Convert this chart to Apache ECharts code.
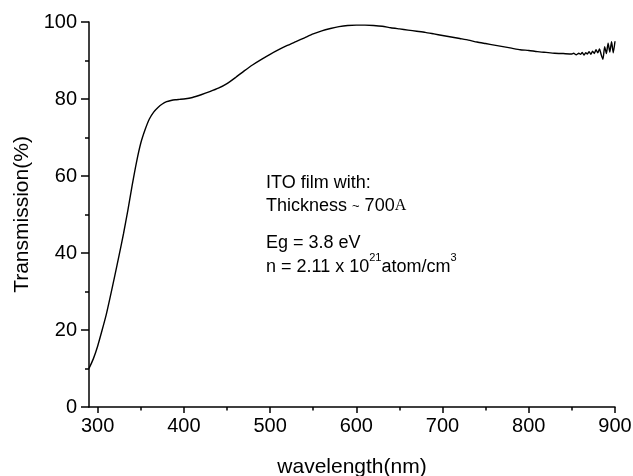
<!DOCTYPE html>
<html>
<head>
<meta charset="utf-8">
<script src="https://cdn.jsdelivr.net/npm/echarts@6/dist/echarts.min.js"></script>
<style>html,body{margin:0;padding:0;background:#fff;}#c{width:633px;height:476px;}</style>
</head>
<body>
<div id="c"></div>
<script>
const wavelength = [290,295,300,305,310,315,320,325,330,335,340,345,350,355,360,365,370,375,380,385,390,395,400,410,420,430,440,450,460,470,480,490,500,510,520,530,540,550,560,570,580,590,600,610,620,630,640,650,660,670,680,690,700,710,720,730,740,750,760,770,780,790,800,810,820,830,840,850,852,855,858,860,862,864,866,868,870,872,874,876,878,880,882,884,886,888,890,892,894,896,898,900];
const transmission = [10.0,12.5,15.8,19.8,24.0,29.0,34.2,39.5,45.0,51.0,57.5,63.5,68.5,72.0,74.8,76.6,77.8,78.7,79.3,79.6,79.8,79.9,80.0,80.4,81.1,81.9,82.8,84.0,85.6,87.3,88.9,90.3,91.6,92.8,93.9,94.9,95.9,96.9,97.7,98.3,98.8,99.1,99.2,99.2,99.1,98.9,98.5,98.2,97.9,97.6,97.3,96.9,96.5,96.1,95.7,95.3,94.8,94.4,94.0,93.6,93.2,92.8,92.6,92.3,92.1,91.9,91.8,91.7,91.9,91.5,91.9,91.6,92.1,91.4,92.0,91.7,92.3,91.6,92.4,91.8,92.8,92.0,93.0,91.5,90.3,93.6,91.8,94.5,92.2,94.9,92.0,95.0];
const xMajorTicks = [300,400,500,600,700,800,900];
const xMinorTicks = [350,450,550,650,750,850];
const yTicks = [0,20,40,60,80,100];

const chart = echarts.init(document.getElementById('c'), null, {renderer:'canvas'});
const FONT = 'Liberation Sans';
const black = '#000';
chart.setOption({
  backgroundColor:'#fff',
  animation:false,
  textStyle:{fontFamily:FONT},
  grid:{left:89,right:18,top:22,bottom:69,containLabel:false,outerBoundsMode:'none'},
  xAxis:[{
    type:'value', min:290, max:900,
    name:'wavelength(nm)', nameLocation:'middle', nameGap:50,
    nameTextStyle:{fontSize:21,color:black,fontFamily:FONT},
    axisLine:{show:true,lineStyle:{color:black,width:1.5}},
    axisTick:{show:true,inside:false,length:6,lineStyle:{color:black,width:1.5},customValues:xMajorTicks},
    axisLabel:{show:true,fontSize:20,color:black,margin:9,fontFamily:FONT,customValues:xMajorTicks},
    splitLine:{show:false}
  },{
    type:'value', min:290, max:900, position:'bottom',
    axisLine:{show:false},
    axisTick:{show:true,inside:false,length:3.5,lineStyle:{color:black,width:1.5},customValues:xMinorTicks},
    axisLabel:{show:false,customValues:xMinorTicks},
    splitLine:{show:false}
  }],
  yAxis:{
    type:'value', min:0, max:100, interval:20,
    name:'Transmission(%)', nameLocation:'middle', nameGap:55,
    nameTextStyle:{fontSize:21,color:black,fontFamily:FONT},
    axisLine:{show:true,lineStyle:{color:black,width:1.5}},
    axisTick:{show:true,inside:false,length:8,lineStyle:{color:black,width:1.5}},
    minorTick:{show:true,splitNumber:2,length:4,lineStyle:{color:black,width:1.5}},
    axisLabel:{fontSize:20,color:black,margin:12,fontFamily:FONT},
    splitLine:{show:false}, minorSplitLine:{show:false}
  },
  series:[{
    type:'line', xAxisIndex:0, yAxisIndex:0,
    data: wavelength.map((w,i)=>[w, transmission[i]]),
    showSymbol:false, smooth:0.2,
    lineStyle:{color:black,width:1.4}
  }],
  graphic:[
    {type:'text', left:266, top:174, style:{text:'ITO film with:', font:'18px "Liberation Sans"', fill:black}},
    {type:'text', left:266, top:197, style:{
      text:'{m|Thickness }{t|~}{m| 700}{a|A}',
      fill:black,
      rich:{m:{fontSize:18,fontFamily:FONT,lineHeight:22,verticalAlign:'middle'},
            t:{fontSize:13,fontFamily:FONT,lineHeight:22,verticalAlign:'middle'},
            a:{fontFamily:'Liberation Serif',fontSize:16,lineHeight:22,verticalAlign:'middle'}}
    }},
    {type:'text', left:266, top:234, style:{text:'Eg = 3.8 eV', font:'18px "Liberation Sans"', fill:black}},
    {type:'text', left:266, top:252, style:{
      text:'{m|n = 2.11 x 10}{s|21}{m|atom/cm}{s|3}',
      fill:black,
      rich:{m:{fontSize:18,fontFamily:FONT,lineHeight:24,verticalAlign:'bottom'},
            s:{fontSize:11,fontFamily:FONT,lineHeight:12,verticalAlign:'top'}}
    }}
  ]
});
</script>
</body>
</html>
